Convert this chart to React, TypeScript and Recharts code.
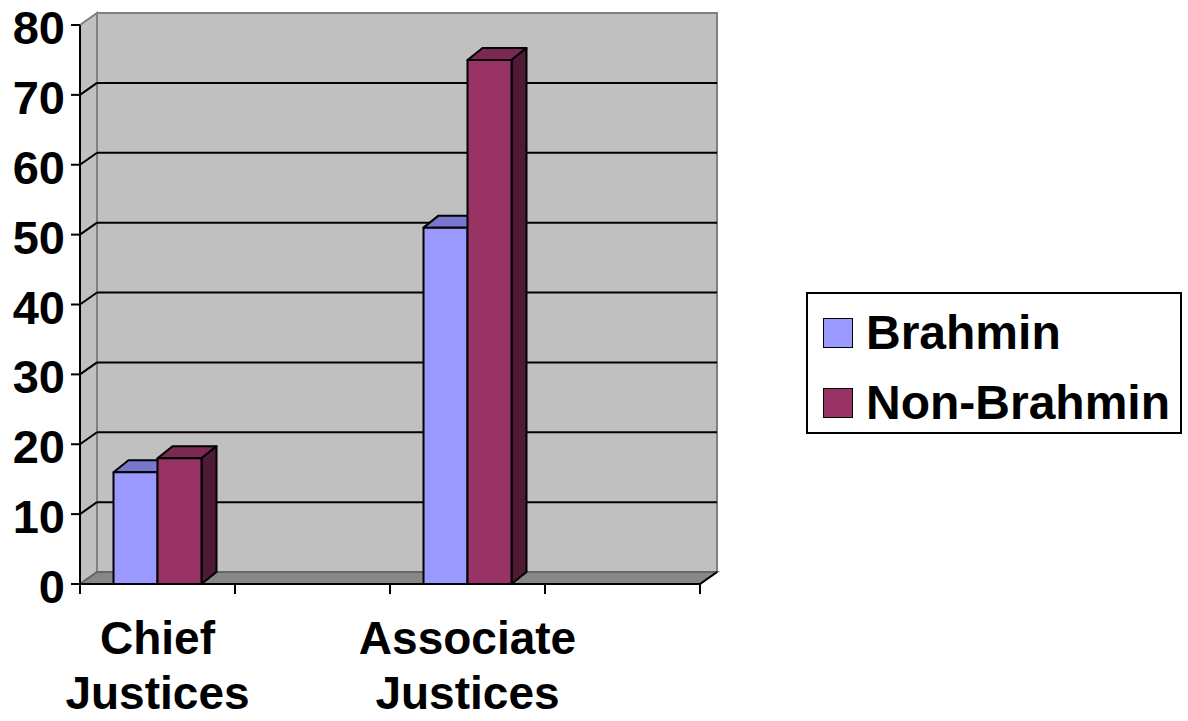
import React from "react";
import { Bar, BarChart, CartesianGrid, Legend, XAxis, YAxis } from "recharts";

const categories = ["Chief Justices", "", "Associate Justices", ""];
const brahmin = [16, null, 51, null];
const nonBrahmin = [18, null, 75, null];
const yTicks = [0, 10, 20, 30, 40, 50, 60, 70, 80];

const data = categories.map((label, i) => ({
  idx: i,
  label,
  brahmin: brahmin[i],
  nonBrahmin: nonBrahmin[i],
}));

const FONT = '"Liberation Sans", Arial, Helvetica, sans-serif';
// depth of the walls and of the boxes
const DX = 17;
const DY = -12;
const BX = 15;
const BY = -12;

function Box3D(props: any) {
  const { x, y, width, height, fill, top, side } = props;
  if (!height || height <= 0) return null;
  const r = x + width;
  const b = y + height;
  return (
    <g stroke="#000" strokeWidth={2} strokeLinejoin="round">
      <polygon points={`${x},${y} ${x + BX},${y + BY} ${r + BX},${y + BY} ${r},${y}`} fill={top} />
      <polygon points={`${r},${y} ${r + BX},${y + BY} ${r + BX},${b + BY} ${r},${b}`} fill={side} />
      <rect x={x} y={y} width={width} height={height} fill={fill} />
    </g>
  );
}

function gridLine(p: any) {
  const { x, y, width, height, y1, index } = p;
  const bottom = y + height;
  const edge = Math.abs(y1 - y) < 1 || Math.abs(y1 - bottom) < 1;
  return (
    <g key={`gl-${index}`}>
      {index === 0 && (
        <g>
          <polygon
            points={`${x},${y} ${x + DX},${y + DY} ${x + DX},${bottom + DY} ${x},${bottom}`}
            fill="#C0C0C0"
            stroke="#808080"
            strokeWidth={2}
          />
          <rect x={x + DX} y={y + DY} width={width} height={height} fill="#C0C0C0" stroke="#808080" strokeWidth={2} />
          <polygon
            points={`${x},${bottom} ${x + DX},${bottom + DY} ${x + width + DX},${bottom + DY} ${x + width},${bottom}`}
            fill="#878787"
            stroke="#666"
            strokeWidth={2}
          />
          <line x1={x + width} y1={bottom} x2={x + width + DX} y2={bottom + DY} stroke="#000" strokeWidth={2} />
        </g>
      )}
      {!edge && (
        <g stroke="#000" strokeWidth={2}>
          <line x1={x} y1={y1} x2={x + DX} y2={y1 + DY} />
          <line x1={x + DX} y1={y1 + DY} x2={x + width + DX} y2={y1 + DY} />
        </g>
      )}
    </g>
  );
}

function XTick(props: any) {
  const { x, y, payload, width } = props;
  const half = width / categories.length / 2;
  const words = (categories[payload.value] ?? "").split(" ").filter(Boolean);
  const last = payload.value === categories.length - 1;
  return (
    <g>
      <line x1={x - half} y1={y} x2={x - half} y2={y + 10} stroke="#000" strokeWidth={2} />
      {last && <line x1={x + half} y1={y} x2={x + half} y2={y + 10} stroke="#000" strokeWidth={2} />}
      <text x={x} y={y + 70} textAnchor="middle" fontFamily={FONT} fontSize={46} fontWeight="bold" fill="#000">
        {words.map((w: string, i: number) => (
          <tspan key={i} x={x} dy={i === 0 ? 0 : 55}>
            {w}
          </tspan>
        ))}
      </text>
    </g>
  );
}

function YTick(props: any) {
  const { x, y, payload } = props;
  return (
    <text x={x} y={y + 19} textAnchor="end" fontFamily={FONT} fontSize={47} fontWeight="bold" fill="#000">
      {payload.value}
    </text>
  );
}

function renderLegend(props: any) {
  const items = props.payload ?? [];
  return (
    <div
      style={{
        boxSizing: "border-box",
        width: 376,
        height: 142,
        border: "2px solid #000",
        background: "#fff",
        paddingTop: 4,
        paddingLeft: 15,
        fontFamily: FONT,
      }}
    >
      {items.map((it: any) => (
        <div key={it.value} style={{ display: "flex", alignItems: "center", height: 70 }}>
          <span
            style={{
              boxSizing: "border-box",
              width: 30,
              height: 30,
              background: it.color,
              border: "1.5px solid #000",
              marginRight: 13,
            }}
          />
          <span style={{ fontSize: 48, fontWeight: "bold", lineHeight: "48px", color: "#000" }}>{it.value}</span>
        </div>
      ))}
    </div>
  );
}

export default function App() {
  return (
    <div style={{ position: "absolute", left: 0, top: 0, width: 1188, height: 721, background: "#fff" }}>
      <BarChart
        width={1188}
        height={721}
        data={data}
        margin={{ top: 25, right: 112, bottom: 0, left: 0 }}
        barGap={0}
        barCategoryGap={33.5}
      >
        <CartesianGrid vertical={false} horizontal={gridLine} />
        <XAxis
          dataKey="idx"
          type="category"
          interval={0}
          height={137}
          tickLine={false}
          tickSize={0}
          tickMargin={0}
          axisLine={{ stroke: "#000", strokeWidth: 2 }}
          tick={<XTick />}
        />
        <YAxis
          domain={[0, 80]}
          ticks={yTicks}
          width={80}
          tickSize={9}
          tickMargin={6}
          axisLine={{ stroke: "#000", strokeWidth: 2 }}
          tickLine={{ stroke: "#000", strokeWidth: 2 }}
          tick={<YTick />}
        />
        <Legend
          layout="vertical"
          align="right"
          verticalAlign="top"
          wrapperStyle={{ left: 806, top: 292, width: 376, height: 142 }}
          content={renderLegend}
        />
        <Bar
          dataKey="brahmin"
          name="Brahmin"
          fill="#9999FF"
          isAnimationActive={false}
          shape={(p: any) => <Box3D {...p} top="#7777CC" side="#5C5C99" />}
        />
        <Bar
          dataKey="nonBrahmin"
          name="Non-Brahmin"
          fill="#993366"
          isAnimationActive={false}
          shape={(p: any) => <Box3D {...p} top="#7A2952" side="#4F1A33" />}
        />
      </BarChart>
    </div>
  );
}
